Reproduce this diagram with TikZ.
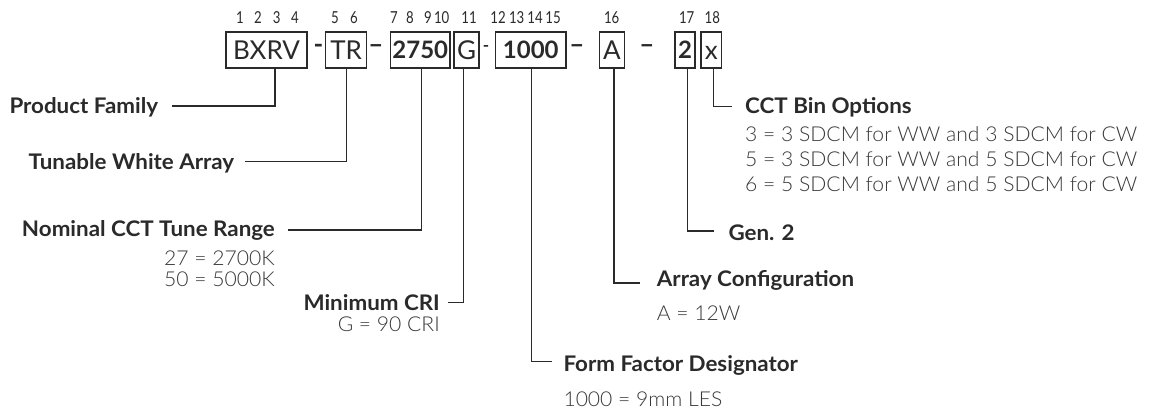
\documentclass[tikz,border=0pt]{standalone}
\usepackage{fontspec}
\setmainfont{Lato}
\newfontfamily\lightf{Lato Light}[FakeStretch=1.03]
\newfontfamily\labf{Lato}[FakeStretch=1.04]
\newfontfamily\numf{Lato}[FakeStretch=0.8]
\definecolor{ink}{HTML}{2A2A2A}
\definecolor{soft}{HTML}{383838}
\begin{document}
\begin{tikzpicture}[x=1pt,y=-1pt,
  box/.style={draw=ink, line width=1.2pt, inner sep=0pt, minimum height=36pt,
    text height=18.6pt, text depth=0pt, font=\fontsize{26}{28}\selectfont, text=ink},
  numbox/.style={font=\bfseries\fontsize{24}{26}\selectfont, text height=17.2pt},
  posnum/.style={font=\numf\fontsize{16.5}{18}\selectfont, text=ink, inner sep=0pt, anchor=base},
  dashmark/.style={font=\bfseries\fontsize{26}{28}\selectfont, text=ink, inner sep=0pt, anchor=base},
  lab/.style={font=\labf\bfseries\fontsize{21.5}{24}\selectfont, text=ink, inner sep=0pt},
  desc/.style={font=\lightf\fontsize{20.5}{24}\selectfont, text=soft, inner sep=0pt},
  conn/.style={draw=ink, line width=1.2pt}]
\useasboundingbox[fill=white] (0,0) rectangle (1149,409);

% position numbers
\node[posnum] (p1) at (240,23.5) {1};
\node[posnum] (p2) at (258,23.5) {2};
\node[posnum] (p3) at (276.7,23.5) {3};
\node[posnum] (p4) at (295,23.5) {4};
\node[posnum] (p5) at (335,23.5) {5};
\node[posnum] (p6) at (354,23.5) {6};
\node[posnum] (p7) at (394,23.5) {7};
\node[posnum] (p8) at (410,23.5) {8};
\node[posnum] (p9) at (428,23.5) {9};
\node[posnum] (p10) at (441.7,23.5) {10};
\node[posnum] (p11) at (469,23.5) {11};
\node[posnum] (p12) at (498,23.5) {12};
\node[posnum] (p13) at (516.7,23.5) {13};
\node[posnum] (p14) at (535,23.5) {14};
\node[posnum] (p15) at (553,23.5) {15};
\node[posnum] (p16) at (611.7,23.5) {16};
\node[posnum] (p17) at (686.7,23.5) {17};
\node[posnum] (p18) at (712.3,23.5) {18};

% code boxes
\node[box, minimum width=81pt] (bxrv) at (266.5,50) {BXRV};
\node[box, minimum width=41pt] (tr) at (346.2,50) {TR};
\node[box, numbox, minimum width=59.3pt] (n2750) at (420.3,50) {2750};
\node[box, minimum width=25pt] (g) at (466.5,50) {G};
\node[box, numbox, minimum width=70.3pt] (n1000) at (530.8,50) {1000};
\node[box, minimum width=25pt] (a) at (611.8,50) {A};
\node[box, numbox, minimum width=20pt] (n2) at (685,50) {2};
\node[box, minimum width=20.7pt] (bx) at (711.3,50) {x};

% separators
\node[dashmark] (d1) at (318.5,54) {-};
\node[dashmark] (d2) at (376,54) {–};
\node[dashmark, font=\bfseries\fontsize{17}{19}\selectfont] (d3) at (486,52) {-};
\node[dashmark] (d4) at (577,54) {–};
\node[dashmark] (d5) at (647,54) {–};

% labels
\node[lab, anchor=base west] (pf) at (9.3,113.3) {Product Family};
\node[lab, anchor=base west] (tw) at (28.3,169.3) {Tunable White Array};
\node[lab, anchor=base east] (nom) at (275,236.7) {Nominal CCT Tune Range};
\node[desc, anchor=base east] (nom1) at (275,265) {27 = 2700K};
\node[desc, anchor=base east] (nom2) at (275,286.7) {50 = 5000K};
\node[lab, anchor=base east] (cri) at (440,310) {Minimum CRI};
\node[desc, anchor=base east] (cri1) at (440,331.7) {G = 90 CRI};
\node[lab, anchor=base west] (ff) at (563.3,371.7) {Form Factor Designator};
\node[desc, anchor=base west] (ff1) at (563.3,406.7) {1000 = 9mm LES};
\node[lab, anchor=base west] (ac) at (656.7,286) {Array Configuration};
\node[desc, anchor=base west] (ac1) at (656.7,320) {A = 12W};
\node[lab, anchor=base west] (gen) at (728.3,240) {Gen. 2};
\node[lab, anchor=base west] (cct) at (745,113.3) {CCT Bin Options};
\node[desc, anchor=base west] (cct1) at (745,141.7) {3 = 3 SDCM for WW and 3 SDCM for CW};
\node[desc, anchor=base west] (cct2) at (745,166.7) {5 = 3 SDCM for WW and 5 SDCM for CW};
\node[desc, anchor=base west] (cct3) at (745,191.7) {6 = 5 SDCM for WW and 5 SDCM for CW};

% connector ends
\coordinate (pfe) at (171.7,106);
\coordinate (twe) at (245,161.7);
\coordinate (nome) at (288,230);
\coordinate (crie) at (448,302.5);
\coordinate (ffe) at (551.7,361.7);
\coordinate (ace) at (640,283);
\coordinate (gene) at (714,231);
\coordinate (ccte) at (731.7,106.7);

% connectors
\draw[conn] ([xshift=8.5pt]bxrv.south) |- (pfe);
\draw[conn] ([xshift=0.5pt]tr.south) |- (twe);
\draw[conn] ([xshift=1.4pt]n2750.south) |- (nome);
\draw[conn] ([xshift=-3.2pt]g.south) |- (crie);
\draw[conn] ([xshift=0.9pt]n1000.south) |- (ffe);
\draw[conn] ([xshift=2.2pt]a.south) |- (ace);
\draw[conn] ([xshift=2.7pt]n2.south) |- (gene);
\draw[conn] ([xshift=2pt]bx.south) |- (ccte);
\end{tikzpicture}
\end{document}
